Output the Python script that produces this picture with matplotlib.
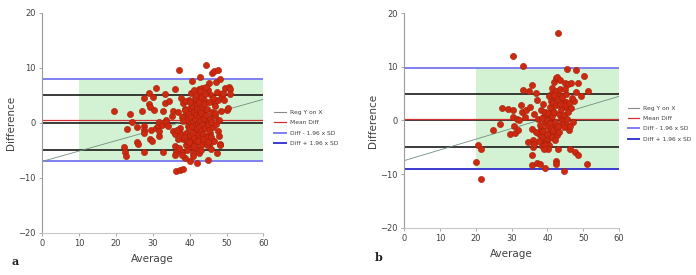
import numpy as np
import matplotlib
matplotlib.use("Agg")
import matplotlib.pyplot as plt
from matplotlib.lines import Line2D

# ---- panel a data (Average, Difference) ----
avg_a = [19.6, 22.2, 22.5, 22.7, 22.9, 23.8, 24.4, 25.7, 25.8, 26.0, 27.1, 27.5, 27.6, 27.7, 27.7, 27.6,
         29.0, 29.1, 29.3, 29.6, 29.3, 29.7, 30.2, 30.0, 30.8, 30.9, 31.3, 31.6, 31.8, 31.8, 32.5, 32.9,
         32.9, 33.2, 33.4, 33.6, 33.6, 34.1, 34.5, 35.2, 35.6, 35.9, 35.6, 35.9, 36.1, 36.3, 36.1, 36.3,
         37.2, 37.4, 38.3, 38.8, 37.7, 37.4, 37.8, 38.1, 38.3, 38.6, 38.8, 39.1, 39.3, 39.5, 39.6, 39.7,
         40.0, 40.2, 40.3, 40.6, 40.9, 41.1, 41.1, 41.3, 41.5, 41.7, 42.0, 42.2, 42.4, 42.6, 42.8, 42.9,
         43.3, 43.6, 43.8, 44.0, 44.5, 44.7, 44.9, 45.1, 45.1, 45.3, 45.4, 45.6, 45.9, 46.1, 46.3, 46.5,
         46.6, 46.9, 47.1, 47.3, 47.6, 47.8, 47.9, 48.0, 48.1, 48.3, 48.5, 48.8, 49.2, 49.7, 50.0, 50.3,
         50.6, 50.9, 51.0,
         38.5, 38.9, 39.2, 39.5, 39.8, 40.0, 40.1, 40.3, 40.5, 40.6, 40.7, 40.8, 41.0, 41.0, 41.2, 41.3,
         41.4, 41.5, 41.6, 41.7, 41.8, 41.9, 42.0, 42.0, 42.1, 42.2, 42.3, 42.4, 42.5, 42.6, 42.7, 42.8,
         42.9, 43.0, 43.0, 43.2, 43.3, 43.4, 43.5, 43.6, 43.8, 44.0, 44.1, 44.2, 44.3, 44.5, 44.6, 44.8,
         45.0, 45.2, 45.3, 45.5, 45.7, 45.8, 46.0, 46.2, 46.4, 46.7, 47.0, 47.2, 47.5, 37.5, 37.8, 38.0,
         38.2, 36.8, 36.5, 36.9, 37.0, 39.0, 39.4, 40.4, 40.9, 41.1, 42.5, 43.1, 44.4, 41.6, 42.8, 40.2,
         39.7, 38.7, 41.3, 42.2, 43.7, 44.9, 45.9, 46.8, 47.8, 48.5, 49.0, 48.2]
diff_a = [2.2, -4.3, -5.2, -6.1, -1.1, 1.7, 0.2, -0.8, -3.5, -3.8, 2.1, 4.5, -0.5, -1.2, -1.8, -5.2,
          5.5, 3.5, 2.9, -1.2, -3.0, -3.3, 2.4, 4.8, 6.4, -1.0, -0.6, -2.3, 0.1, -1.4, -0.3, 2.1,
          -5.2, 3.6, 5.3, 0.6, 0.1, -0.6, 3.9, 1.2, 2.1, 6.1, -1.5, -2.1, -4.2, -5.2, -5.8, -8.8,
          9.7, -8.6, -8.4, -6.4, 4.5, -0.9, -5.2, -3.0, 3.6, 1.2, 2.5, -1.8, 0.6, -0.6, -4.2, 4.2,
          -7.0, -3.0, -0.1, 7.7, 1.2, -4.8, 3.6, 2.4, -1.2, 4.2, -7.3, 0.9, 6.1, -1.8, 8.4, -3.3,
          6.4, 1.8, 4.2, -2.4, 10.5, 0.6, -0.6, 5.9, -6.8, 7.3, -1.8, -3.6, -4.7, 9.0, 1.5, 9.4,
          3.6, 1.2, 7.4, -5.5, 4.2, 9.6, 0.5, -2.4, -3.9, 7.9, 5.2, 4.8, 4.2, 6.4, 2.4, 2.7,
          6.5, 6.1, 5.2,
          -2.5, -4.0, -3.2, 1.8, -1.0, 2.8, -2.2, 1.0, -3.8, 3.0, -0.5, -5.5, 0.3, -1.8, 2.0, -2.8,
          4.5, 0.8, -0.2, -3.5, 1.6, 3.2, -1.0, 2.6, -4.5, -2.2, 0.0, 3.8, 1.2, -0.6, 2.2, -2.8,
          0.4, 4.8, -1.4, 1.8, -3.8, -0.2, 2.9, -2.0, 0.9, 3.4, -1.0, 5.3, -2.6, 1.4, -4.0, 2.5,
          -0.3, 3.8, -1.2, 0.8, 5.0, -2.5, 2.0, -0.8, 4.6, -3.2, 3.0, -0.2, 5.6, -1.8, 1.0, -5.8,
          0.3, -3.0, -1.2, 2.0, -4.5, 4.0, -5.0, 5.5, -6.0, 6.0, -5.5, -5.0, 6.5, 5.0, 5.8, 3.8,
          -3.5, 2.3, -4.2, -3.3, -2.9, -3.5, 0.2, 1.8, -1.5, 2.2, 5.5, -4.1]

# ---- panel b data ----
avg_b = [20.0, 20.7, 21.4, 21.4, 24.9, 26.9, 27.2, 28.9, 29.5, 30.3, 30.3, 30.5, 30.7, 30.9, 31.4, 31.7,
         32.1, 32.5, 32.8, 33.3, 33.3, 33.7, 34.0, 34.5, 34.8, 35.1, 35.6, 35.6, 35.6, 35.7, 36.0, 36.0,
         36.3, 36.8, 37.1, 37.2, 37.4, 37.7, 37.9, 38.1, 38.3, 38.3, 38.6, 39.0, 39.1, 39.3, 39.3, 39.6,
         39.7, 39.9, 40.2, 40.4, 40.5, 40.7, 40.9, 41.1, 41.3, 41.4, 41.6, 41.8, 42.0, 42.1, 42.3, 42.5,
         42.5, 42.7, 42.8, 43.0, 43.0, 43.2, 43.5, 43.7, 44.0, 44.1, 44.4, 44.6, 44.8, 45.1, 45.3, 45.5,
         45.6, 45.7, 45.9, 46.2, 46.5, 46.7, 47.2, 47.4, 47.7, 48.0, 48.1, 48.4, 48.6, 49.3, 50.1, 51.1,
         51.2,
         38.0, 38.6, 38.9, 39.2, 39.5, 39.8, 40.0, 40.3, 40.6, 40.8, 41.0, 41.2, 41.5, 41.7, 41.9, 42.1,
         42.3, 42.4, 42.6, 42.9, 43.1, 43.3, 43.5, 43.8, 44.0, 44.2, 44.5, 44.7, 45.0, 45.2, 45.5, 46.0,
         46.3, 40.5, 41.4, 39.4, 38.4, 42.0, 43.6, 44.8, 37.6, 36.7, 36.2, 38.8, 40.1, 41.8, 43.0, 45.8,
         46.8, 39.0]
diff_b = [-7.8, -4.5, -5.4, -10.9, -1.7, -0.6, 2.3, 2.2, -2.5, 2.0, 12.0, 0.6, -1.1, -2.3, 0.3, -1.7,
          0.1, 2.8, 1.6, 5.6, 10.1, 0.6, 1.9, -4.0, 5.4, 2.6, 6.7, -6.5, -8.4, -1.6, -3.7, -5.0,
          -4.3, 5.1, 3.9, -7.9, 0.3, -2.5, -8.1, 1.9, -1.6, -3.9, -4.8, 0.9, -2.8, -0.2, -8.8, -4.0,
          -5.0, -1.1, -3.4, 0.6, -4.5, -1.9, 3.7, 5.0, 2.0, 6.1, -2.5, 7.1, -0.9, 4.3, 8.0, -7.5,
          -8.1, 8.1, -2.8, -5.3, 16.3, 4.7, 7.6, 0.6, 3.1, -0.1, 3.7, -9.4, 7.0, 3.4, 2.5, 9.6,
          -0.9, 6.8, -1.7, -5.3, 7.0, 2.4, -0.3, 3.7, -5.9, 9.4, 5.3, -6.5, 7.0, 4.5, 8.2, -8.2,
          5.5,
          -0.8, 0.4, -2.0, 1.5, -3.2, 0.0, -2.6, 1.3, -0.4, 2.6, -1.4, 0.9, 3.3, -1.8, 1.6, -0.3,
          5.5, 2.9, -1.5, 4.0, 1.2, -2.2, 5.8, 2.1, -0.6, 4.4, 1.0, -1.2, 2.9, 4.9, 0.3, 3.2,
          -1.0, 4.5, -3.0, -4.6, -3.0, -3.7, 3.0, 5.8, -3.8, -2.1, 1.2, 3.0, -5.4, 4.8, -1.0, 1.5,
          4.1, -5.3]

# reference lines per panel
mean_diff = [0.5, 0.3]
upper_loa = [8.0, 9.8]
lower_loa = [-6.9, -9.0]
band_start = [10, 20]
reg_ends = [(-7.0, 4.3), (-7.5, 4.5)]
panel_labels = ['a', 'b']
legend_labels = ['Reg Y on X', 'Mean Diff', 'Diff - 1.96 x SD', 'Diff + 1.96 x SD']

green = '#d3f1d3'
dot_face = '#cc2a10'
dot_edge = '#a81e08'
light_blue = '#7f7ff2'
dark_blue = '#3a3ad0'
axis_gray = '#9a9a9a'
text_gray = '#404040'

fig = plt.figure(figsize=(6.96, 2.75), dpi=100)
ax_a = fig.add_axes([0.0605, 0.153, 0.318, 0.800])
ax_b = fig.add_axes([0.5805, 0.172, 0.309, 0.780])
axes = [ax_a, ax_b]
data = [(avg_a, diff_a), (avg_b, diff_b)]
legend_pos = [(0.388, 0.535), (0.896, 0.55)]
label_pos = [(0.016, 0.035), (0.539, 0.05)]

for i, ax in enumerate(axes):
    x, y = data[i]
    ax.set_xlim(0, 60)
    ax.set_ylim(-20, 20)
    ax.fill_between([band_start[i], 60], lower_loa[i], upper_loa[i], color=green, lw=0, zorder=0)
    for h in [5, 0, -5]:
        ax.axhline(h, color='#1a1a1a', lw=1.2, zorder=1)
    ax.axhline(mean_diff[i], color='#d03030', lw=0.9, zorder=1)
    ax.axhline(upper_loa[i], color=light_blue, lw=1.4, zorder=1)
    ax.axhline(lower_loa[i], color=light_blue if i == 0 else dark_blue, lw=1.4, zorder=1)
    ax.plot([0, 60], reg_ends[i], color='#6f8f7f', lw=0.6, zorder=2)
    ax.scatter(x, y, s=20, c=dot_face, edgecolors=dot_edge, linewidths=0.4, zorder=3)

    for s in ['top', 'right']:
        ax.spines[s].set_visible(False)
    ax.spines['left'].set_color(axis_gray)
    ax.spines['bottom'].set_color('#c8c8c8')
    ax.spines['left'].set_linewidth(0.8)
    ax.spines['bottom'].set_linewidth(0.8)
    ax.set_xticks(range(0, 61, 10))
    ax.set_yticks([-20, -10, 0, 10, 20])
    ax.tick_params(colors=axis_gray, labelcolor=text_gray, labelsize=6, length=2.5, width=0.6, pad=2)
    ax.set_xlabel('Average', fontsize=7.5, color=text_gray, labelpad=4)
    ax.set_ylabel('Difference', fontsize=7.5, color=text_gray, labelpad=2)

    handles = [Line2D([], [], color='#8a8a8a', lw=0.8),
               Line2D([], [], color='#d03030', lw=0.9),
               Line2D([], [], color=light_blue, lw=1.4),
               Line2D([], [], color=dark_blue, lw=1.4)]
    fig.legend(handles, legend_labels, loc='center left', bbox_to_anchor=legend_pos[i],
               frameon=False, fontsize=4.3, handlelength=1.9, handletextpad=0.7,
               labelspacing=0.85, labelcolor=text_gray, borderpad=0.2)
    fig.text(label_pos[i][0], label_pos[i][1], panel_labels[i], family='DejaVu Serif',
             fontweight='bold', fontsize=8, color='#222222')

fig.savefig('out.png', dpi=100)
